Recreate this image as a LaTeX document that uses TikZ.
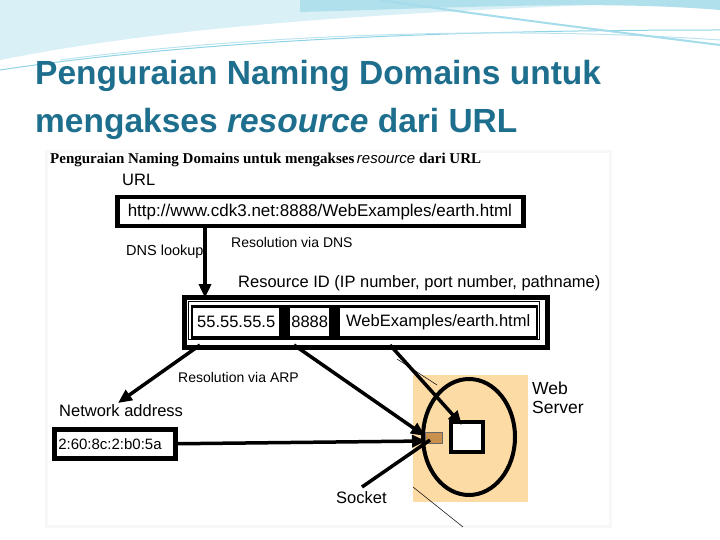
\documentclass[tikz,border=0pt]{standalone}
\usepackage{fontspec}
\setmainfont{Liberation Serif}
\setsansfont{Liberation Sans}
\usetikzlibrary{arrows.meta,shapes.geometric}
\definecolor{ttl}{HTML}{1E6E8E}
\definecolor{wave}{HTML}{8FD3E6}
\definecolor{srv}{HTML}{FCDCA4}
\definecolor{sock}{HTML}{C8904C}
\tikzset{
 thickbox/.style={draw=black,line width=4.5pt,fill=white,inner sep=0pt,font=\sffamily\fontsize{17}{17}\selectfont},
 lbl/.style={font=\sffamily\fontsize{16.5}{16.5}\selectfont,anchor=west,inner sep=0pt},
 small/.style={font=\sffamily\fontsize{14}{14}\selectfont,anchor=west,inner sep=0pt},
 cell/.style={fill=white,inner sep=0pt,minimum height=28pt,anchor=north west,font=\sffamily\fontsize{16.5}{16.5}\selectfont},
 fat/.style={line width=3.5pt,-{Triangle[length=14pt,width=12pt]}},
}
\begin{document}
\begin{tikzpicture}[x=1pt,y=-1pt]
\useasboundingbox (0,0) rectangle (720,540);
\fill[white] (0,0) rectangle (720,540);
% top waves
\fill[wave!35] (0,60) .. controls (200,20) and (450,10) .. (720,0) -- (0,0) -- cycle;
\fill[wave!70] (300,12) .. controls (450,8) and (600,0) .. (720,10) -- (720,0) -- (300,0) -- cycle;
\draw[wave,line width=1pt] (0,70) .. controls (200,40) and (450,30) .. (720,30);
\draw[wave!60,line width=1pt] (60,60) .. controls (250,35) and (500,25) .. (720,40);
\draw[wave!80,line width=2pt] (380,0) .. controls (480,15) and (600,30) .. (720,45);
% title
\node[anchor=base west,inner sep=0pt,text=ttl,font=\sffamily\bfseries\fontsize{33.5}{33.5}\selectfont] (t1) at (35,85) {Penguraian Naming Domains untuk};
\node[anchor=base west,inner sep=0pt,text=ttl,font=\sffamily\bfseries\fontsize{33.5}{33.5}\selectfont] (t2) at (35,133) {mengakses \textit{resource} dari URL};
% panel
\fill[black!3] (45,150) rectangle (612,528);
\fill[white] (48,153) rectangle (609,525);
\node[anchor=west,inner sep=0pt,font=\bfseries\fontsize{15}{15}\selectfont] (sub) at (50,160) {Penguraian Naming Domains untuk mengakses\,\textit{\sffamily\mdseries resource} dari URL};
\node[lbl] (urll) at (122,180) {URL};
\node[thickbox,minimum width=406pt,minimum height=29pt,anchor=north west,align=left,text width=385pt] (url) at (115,195) {http://www.cdk3.net:8888/WebExamples/earth.html};
\node[small] (rdns) at (231,242) {Resolution via DNS};
\node[lbl,font=\sffamily\fontsize{14.5}{14.5}\selectfont] (dnsl) at (126,252) {DNS lookup};
\node[lbl] (rid) at (238,283) {Resource ID (IP number, port number, pathname)};
\node[draw,line width=4.5pt,minimum width=363pt,minimum height=50pt,anchor=north west] (outer) at (182,295) {};
\node[draw,line width=1pt,fill=white,minimum width=351pt,minimum height=38pt,anchor=north west] (inner) at (188,301) {};
\fill (191,305) rectangle (538,339);
\node[cell,minimum width=86pt] (ip) at (193,308) {55.55.55.5};
\node[cell,minimum width=39pt] (port) at (290,308) {8888};
\node[cell,minimum width=196pt] (path) at (340,308) {WebExamples/earth.html};
\draw[fat] (205,225) -- (205,298);
% server
\fill[srv] (413,375) rectangle (528,502);
\draw[line width=0.5pt] (397,359) -- (437,385);
\draw[line width=0.5pt] (413,487) -- (463,527);
\node[draw,line width=4pt,ellipse,minimum width=92pt,minimum height=116pt,inner sep=0pt] (srvc) at (469,437) {};
\node[draw,line width=4pt,fill=white,minimum width=32pt,minimum height=30pt,inner sep=0pt] (proc) at (467,437) {};
\node[fill=sock,draw=black!60,line width=0.3pt,minimum width=17pt,minimum height=11pt,inner sep=0pt] (sk) at (434,438) {};
\node[lbl,font=\sffamily\fontsize{17.5}{17.5}\selectfont] (web) at (532,388) {Web};
\node[lbl,font=\sffamily\fontsize{17.5}{17.5}\selectfont] (serv) at (532,407) {Server};
% network
\node[lbl] (netl) at (59,411) {Network address};
\node[thickbox,font=\sffamily\fontsize{15}{15}\selectfont,minimum width=121pt,minimum height=29pt,anchor=north west,text width=113pt,align=left] (mac) at (52,427) {2:60:8c:2:b0:5a};
\node[small] (rarp) at (178,377) {Resolution via ARP};
\node[lbl] (sockl) at (336,498) {Socket};
\coordinate (a1) at (200,345);
\coordinate (a2) at (294,345);
\coordinate (a3) at (390,345);
\coordinate (s0) at (362,487);
\draw[fat] (a1) -- (118,403);
\draw[fat] (a2) -- (425,436);
\draw[fat] (a3) -- (462,425);
\draw[fat] (mac.east) -- (426,441);
\draw[line width=3.5pt] (s0) -- (430,440);
\end{tikzpicture}
\end{document}
